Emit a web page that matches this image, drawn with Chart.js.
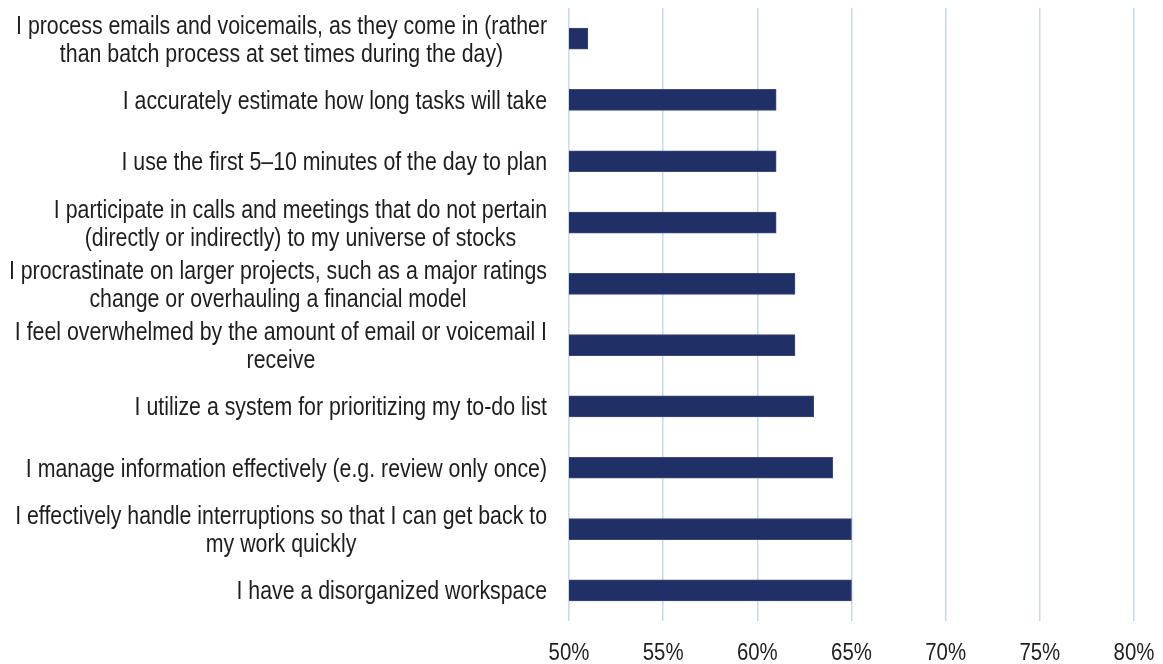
<!DOCTYPE html>
<html>
<head>
<meta charset="utf-8">
<script src="https://cdn.jsdelivr.net/npm/chart.js@4.4.1/dist/chart.umd.min.js"></script>
<style>
    html, body { margin: 0; padding: 0; background: #fff; }
    #wrap { width: 1163px; height: 664px; }
</style>
</head>
<body>
<div id="wrap"><canvas id="myChart"></canvas></div>
<script>
const categories = [
    ['I process emails and voicemails, as they come in (rather', 'than batch process at set times during the day)'],
    ['I accurately estimate how long tasks will take'],
    ['I use the first 5\u201310 minutes of the day to plan'],
    ['I participate in calls and meetings that do not pertain', '(directly or indirectly) to my universe of stocks'],
    ['I procrastinate on larger projects, such as a major ratings', 'change or overhauling a financial model'],
    ['I feel overwhelmed by the amount of email or voicemail I', 'receive'],
    ['I utilize a system for prioritizing my to-do list'],
    ['I manage information effectively (e.g. review only once)'],
    ['I effectively handle interruptions so that I can get back to', 'my work quickly'],
    ['I have a disorganized workspace']
];
const values = [51, 61, 61, 61, 62, 62, 63, 64, 65, 65];
const xTicks = [50, 55, 60, 65, 70, 75, 80];

const textColor = '#1e1e1e';
const narrow = 0.853;

// labels are drawn by hand so the narrow type and centred lines come out right
const labelPlugin = {
    id: 'narrowLabels',
    afterDraw(chart) {
        const ctx = chart.ctx;
        const yScale = chart.scales.y;
        const xScale = chart.scales.x;
        const area = chart.chartArea;
        ctx.save();
        ctx.fillStyle = textColor;

        ctx.font = '25px "Liberation Sans", Arial, sans-serif';
        ctx.textBaseline = 'alphabetic';
        ctx.textAlign = 'center';
        const lineH = 28;
        const right = area.left - 22;
        categories.forEach((lines, i) => {
            const yc = yScale.getPixelForValue(i);
            let maxW = 0;
            lines.forEach(l => { maxW = Math.max(maxW, ctx.measureText(l).width * narrow); });
            const cx = right - maxW / 2;
            const top = yc - (lines.length - 1) * lineH / 2;
            lines.forEach((l, k) => {
                ctx.save();
                ctx.translate(cx, top + k * lineH + 9);
                ctx.scale(narrow, 1);
                ctx.fillText(l, 0, 0);
                ctx.restore();
            });
        });

        ctx.font = '24px "Liberation Sans", Arial, sans-serif';
        xTicks.forEach(v => {
            ctx.save();
            ctx.translate(xScale.getPixelForValue(v), area.bottom + 39);
            ctx.scale(0.85, 1);
            ctx.fillText(v + '%', 0, 0);
            ctx.restore();
        });
        ctx.restore();
    }
};

const ctx = document.getElementById('myChart');

new Chart(ctx, {
    type: 'bar',
    data: {
        labels: categories.map(c => c.join(' ')),
        datasets: [{
            data: values,
            backgroundColor: '#203066',
            borderColor: '#3a4a7c',
            borderWidth: 1,
            barThickness: 21
        }]
    },
    options: {
        indexAxis: 'y',
        responsive: true,
        maintainAspectRatio: false,
        animation: false,
        layout: {
            padding: { top: 8, left: 569, right: 29, bottom: 0 }
        },
        scales: {
            x: {
                min: 50,
                max: 80,
                ticks: {
                    display: false,
                    stepSize: 5
                },
                grid: {
                    color: '#c6d9f0',
                    lineWidth: 1.5,
                    drawTicks: false
                },
                border: { display: false },
                afterFit(scale) {
                    scale.height = 43;
                }
            },
            y: {
                display: false
            }
        },
        plugins: {
            legend: { display: false },
            tooltip: { enabled: false }
        }
    },
    plugins: [labelPlugin]
});
</script>
</body>
</html>
